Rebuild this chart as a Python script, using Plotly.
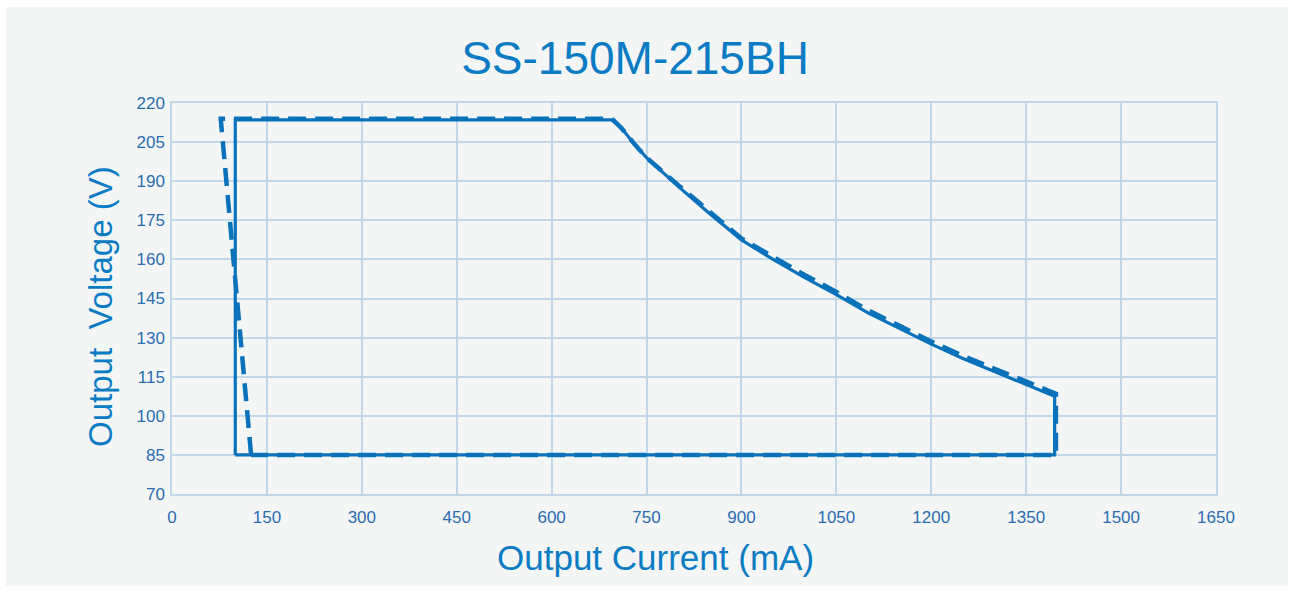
import plotly.graph_objects as go

# ---- data ----
x_ticks = [0, 150, 300, 450, 600, 750, 900, 1050, 1200, 1350, 1500, 1650]
y_ticks = [70, 85, 100, 115, 130, 145, 160, 175, 190, 205, 220]

# solid boundary (mA, V)
solid_current = [100, 100, 695, 710, 730, 750, 800, 850, 900, 950, 1000, 1050,
                 1100, 1150, 1200, 1250, 1300, 1350, 1395, 1395, 100]
solid_voltage = [85, 213.5, 213.5, 210.5, 204.5, 199, 188, 177.5, 167.5, 160, 153, 146.5,
                 139.5, 133.5, 127.5, 122, 117, 111.8, 107.5, 85, 85]

# dashed boundary (mA, V)
dashed_current = [125, 77, 695, 710, 730, 750, 800, 850, 900, 950, 1000, 1050,
                  1100, 1150, 1200, 1250, 1300, 1350, 1397, 1397, 125]
dashed_voltage = [85, 214, 214, 210.5, 204.5, 199, 188.5, 178, 168, 161, 154, 147.5,
                  140.5, 134.5, 128.5, 123, 118, 112.8, 108.5, 85, 85]

title_text = "SS-150M-215BH"
x_title = "Output Current (mA)"
y_title = "Output  Voltage (V)"

LINE = "#0a72bb"
TEXT = "#0b7cc4"
TICK = "#2b6cb0"
GRID = "#c2d7e9"
FONT = "Liberation Sans, Arial, sans-serif"

fig = go.Figure()
fig.add_trace(go.Scatter(x=solid_current, y=solid_voltage, mode="lines",
                         line=dict(color=LINE, width=3.2), showlegend=False,
                         hoverinfo="skip"))
fig.add_trace(go.Scatter(x=dashed_current, y=dashed_voltage, mode="lines",
                         line=dict(color=LINE, width=4.5, dash="18px,9px"),
                         showlegend=False, hoverinfo="skip"))

W, H = 1294, 592
L, R, T, B = 172, 78, 103, 98
pw, ph = W - L - R, H - T - B

def px_x(p):
    return (p - L) / pw

def px_y(p):
    return (H - B - p) / ph

fig.update_layout(
    width=W, height=H,
    margin=dict(l=L, r=R, t=T, b=B),
    paper_bgcolor="white",
    plot_bgcolor="rgba(0,0,0,0)",
    font=dict(family=FONT, color=TICK),
    title=dict(text=title_text, x=635 / W, xref="container", xanchor="center",
               y=1 - 58 / H, yref="container", yanchor="middle",
               font=dict(size=46, color=TEXT, family=FONT)),
    shapes=[dict(type="rect", xref="paper", yref="paper",
                 x0=px_x(6), x1=px_x(1288), y0=px_y(586), y1=px_y(7),
                 fillcolor="#f4f6f6", line=dict(width=0), layer="below")],
    annotations=[
        dict(text=x_title, xref="paper", yref="paper", x=px_x(655), y=px_y(557),
             xanchor="center", yanchor="middle", showarrow=False,
             font=dict(size=35, color=TEXT, family=FONT)),
        dict(text=y_title, xref="paper", yref="paper", x=px_x(100), y=px_y(307),
             xanchor="center", yanchor="middle", showarrow=False, textangle=-90,
             font=dict(size=33, color=TEXT, family=FONT)),
    ],
)

fig.update_xaxes(range=[x_ticks[0], x_ticks[-1]], tickvals=x_ticks,
                 ticktext=[str(v) for v in x_ticks],
                 showgrid=True, gridcolor=GRID, gridwidth=1.5,
                 showline=True, linecolor=GRID, linewidth=1.5, mirror=True,
                 zeroline=False, ticks="outside", ticklen=7,
                 tickcolor="rgba(0,0,0,0)",
                 tickfont=dict(size=17, color=TICK, family=FONT))
fig.update_yaxes(range=[y_ticks[0], y_ticks[-1]], tickvals=y_ticks,
                 ticktext=[str(v) for v in y_ticks],
                 showgrid=True, gridcolor=GRID, gridwidth=1.5,
                 showline=True, linecolor=GRID, linewidth=1.5, mirror=True,
                 zeroline=False, ticks="outside", ticklen=2,
                 tickcolor="rgba(0,0,0,0)",
                 tickfont=dict(size=17, color=TICK, family=FONT))

fig.write_html("out.html", config={"displayModeBar": False},
               post_script="document.body.style.margin='0';")
